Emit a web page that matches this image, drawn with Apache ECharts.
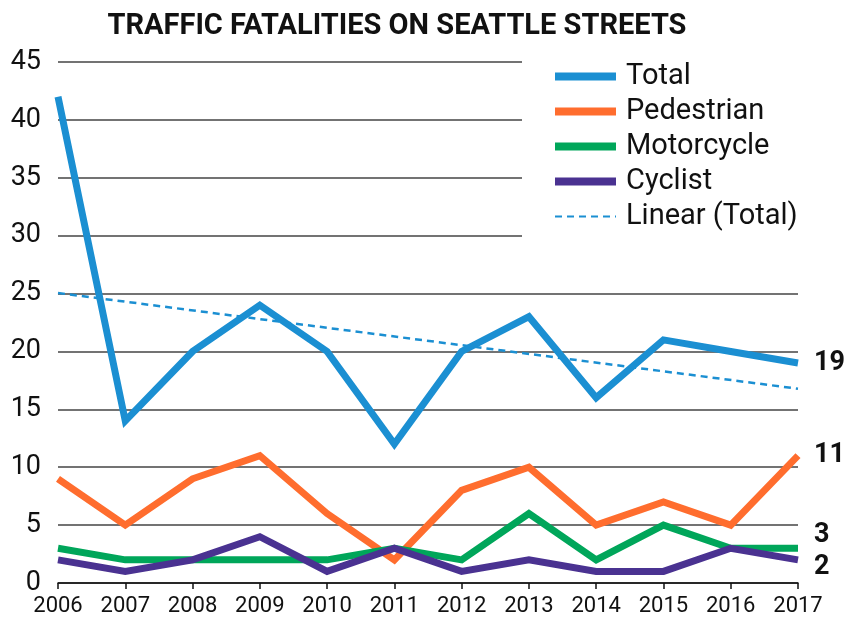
<!DOCTYPE html>
<html>
<head>
<meta charset="utf-8">
<script src="https://cdn.jsdelivr.net/npm/echarts@6/dist/echarts.min.js"></script>
<style>
  html, body { margin: 0; padding: 0; background: #fff; }
  #chart { width: 849px; height: 622px; }
</style>
</head>
<body>
<div id="chart"></div>
<script>
// --- data ---
const years = ['2006', '2007', '2008', '2009', '2010', '2011', '2012', '2013', '2014', '2015', '2016', '2017'];
const total = [42, 14, 20, 24, 20, 12, 20, 23, 16, 21, 20, 19];
const pedestrian = [9, 5, 9, 11, 6, 2, 8, 10, 5, 7, 5, 11];
const motorcycle = [3, 2, 2, 2, 2, 3, 2, 6, 2, 5, 3, 3];
const cyclist = [2, 1, 2, 4, 1, 3, 1, 2, 1, 1, 3, 2];
// trend line end points (first and last year)
const trendLine = [[0, 25.05], [11, 16.78]];

const FONT = 'Roboto, "DejaVu Sans", sans-serif';
const colors = {
  total: '#1b8fd2',
  pedestrian: '#ff6d2e',
  motorcycle: '#00a65a',
  cyclist: '#4a3291'
};

// end-of-line label, shifted a bit where the lines crowd
function endLabel(offsetY) {
  return {
    show: true,
    distance: 16,
    offset: [0, offsetY],
    formatter: '{c}',
    fontFamily: FONT,
    fontSize: 27,
    fontWeight: 'bold',
    color: '#111'
  };
}

function lineSeries(name, data, color, offsetY) {
  return {
    name: name,
    type: 'line',
    data: data,
    symbol: 'none',
    z: 3,
    lineStyle: { color: color, width: 7, join: 'miter', cap: 'butt' },
    itemStyle: { color: color },
    endLabel: endLabel(offsetY)
  };
}

const chart = echarts.init(document.getElementById('chart'));

chart.setOption({
  animation: false,
  title: {
    text: 'TRAFFIC FATALITIES ON SEATTLE STREETS',
    left: 392,
    textAlign: 'center',
    top: 7,
    textStyle: { fontFamily: FONT, fontSize: 29, fontWeight: 'bold', color: '#111' }
  },
  legend: {
    orient: 'vertical',
    left: 522,
    top: 50,
    padding: [10, 60, 14, 32],
    backgroundColor: '#fff',
    itemWidth: 61,
    itemHeight: 8,
    itemGap: 2,
    textStyle: { fontFamily: FONT, fontSize: 29, color: '#111', lineHeight: 33, padding: [0, 0, 0, 5] },
    data: [
      { name: 'Total', icon: 'rect' },
      { name: 'Pedestrian', icon: 'rect' },
      { name: 'Motorcycle', icon: 'rect' },
      { name: 'Cyclist', icon: 'rect' },
      { name: 'Linear (Total)', itemStyle: { color: 'rgba(0,0,0,0)', borderColor: 'rgba(0,0,0,0)', borderWidth: 0 } }
    ]
  },
  grid: { left: 58, right: 51, top: 62, bottom: 39 },
  xAxis: {
    type: 'category',
    data: years,
    boundaryGap: false,
    axisLine: { show: true, lineStyle: { color: '#111', width: 1.5 } },
    axisTick: { show: true, length: 6, lineStyle: { color: '#111', width: 1.5 } },
    axisLabel: { fontFamily: FONT, fontSize: 22, color: '#111', margin: 12, interval: 0 }
  },
  yAxis: {
    type: 'value',
    min: 0,
    max: 45,
    interval: 5,
    axisLine: { show: false },
    axisTick: { show: false },
    axisLabel: { fontFamily: FONT, fontSize: 27, color: '#111', margin: 17 },
    splitLine: { lineStyle: { color: '#444', width: 1.5 } }
  },
  series: [
    lineSeries('Total', total, colors.total, 0),
    lineSeries('Pedestrian', pedestrian, colors.pedestrian, 0),
    lineSeries('Motorcycle', motorcycle, colors.motorcycle, -13),
    lineSeries('Cyclist', cyclist, colors.cyclist, 7),
    {
      name: 'Linear (Total)',
      type: 'line',
      data: trendLine,
      symbol: 'none',
      z: 2,
      lineStyle: { color: colors.total, width: 2.5, type: [7, 5] },
      itemStyle: { color: colors.total }
    }
  ]
});
</script>
</body>
</html>
